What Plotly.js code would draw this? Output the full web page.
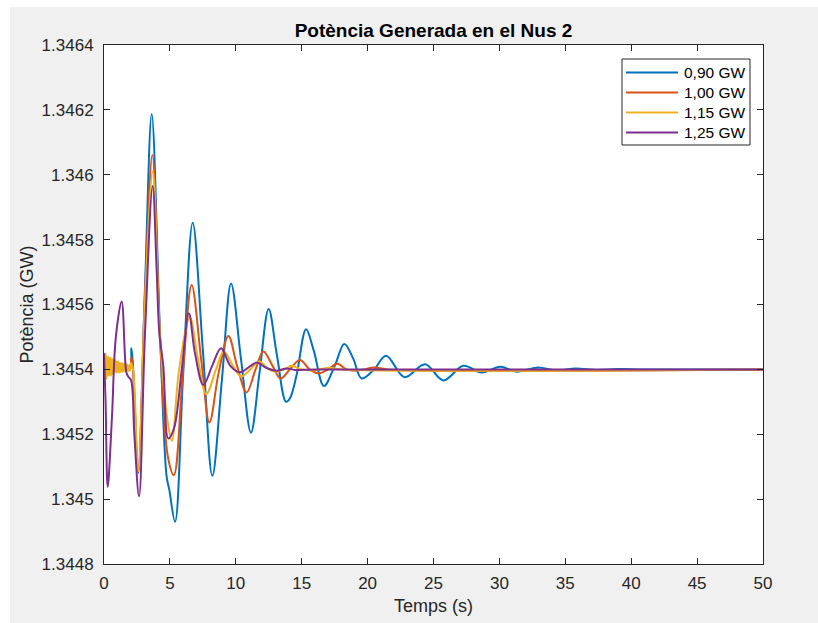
<!DOCTYPE html>
<html>
<head>
<meta charset="utf-8">
<script src="https://cdn.plot.ly/plotly-3.0.1.min.js"></script>
<style>
html,body{margin:0;padding:0;background:#ffffff;}
#chart{position:absolute;left:10px;top:7px;width:808px;height:616px;}
</style>
</head>
<body>
<div id="chart"></div>
<script>
// ---- Data ----
const seriesNames = ['0,90 GW', '1,00 GW', '1,15 GW', '1,25 GW'];

const time090 = [0, 0.4, 0.9, 1.4, 1.95, 2.08, 2.2, 2.6, 3.1, 3.62, 4.25, 4.75, 4.95, 5.39, 6.0, 6.73, 7.5, 8.22, 8.95, 9.64, 10.4, 11.15, 11.8, 12.49, 13.1, 13.81, 14.1, 14.6, 15.33, 15.9, 16.69, 17.5, 18.23, 18.9, 19.55, 20.5, 21.4, 22.8, 24.36, 25.75, 27.26, 28.66, 30.05, 31.3, 32.95, 34.3, 35.8, 37.4, 39.0, 41.0, 50.0];
const power090 = [1.34545, 1.34541, 1.34540, 1.34541, 1.34540, 1.345465, 1.34541, 1.34508, 1.34564, 1.346187, 1.34551, 1.34507, 1.34503, 1.34493, 1.34538, 1.345852, 1.34546, 1.345072, 1.34537, 1.345665, 1.34543, 1.345205, 1.34539, 1.345586, 1.345449, 1.3453, 1.34531, 1.34538, 1.345524, 1.34546, 1.345349, 1.34541, 1.345478, 1.345434, 1.345372, 1.34540, 1.345442, 1.345376, 1.345416, 1.345366, 1.345411, 1.34539, 1.345408, 1.345393, 1.345406, 1.345397, 1.345403, 1.345398, 1.345401, 1.3454, 1.3454];

const time100 = [0, 0.5, 1.0, 1.5, 1.95, 2.08, 2.2, 2.6, 3.1, 3.67, 4.25, 4.85, 5.3, 6.0, 6.65, 7.4, 8.0, 8.7, 9.44, 10.1, 10.82, 11.5, 12.09, 12.8, 13.4, 14.1, 14.87, 15.6, 16.26, 17.0, 17.7, 18.4, 19.05, 19.8, 20.43, 21.5, 50.0];
const power100 = [1.34545, 1.34541, 1.34540, 1.34541, 1.34540, 1.345439, 1.34540, 1.34509, 1.34562, 1.346061, 1.34550, 1.34513, 1.345074, 1.34540, 1.34566, 1.34542, 1.345236, 1.34539, 1.345503, 1.34541, 1.345329, 1.34540, 1.345455, 1.34541, 1.345372, 1.34540, 1.345429, 1.34540, 1.345388, 1.34540, 1.345417, 1.34540, 1.345396, 1.34540, 1.345406, 1.3454, 1.3454];

const time115 = [0.00, 0.06, 0.12, 0.18, 0.24, 0.30, 0.36, 0.42, 0.48, 0.54, 0.60, 0.66, 0.72, 0.78, 0.84, 0.90, 0.96, 1.02, 1.08, 1.14, 1.20, 1.26, 1.32, 1.38, 1.44, 1.50, 1.56, 1.62, 1.68, 1.74, 1.80, 1.86, 1.92, 1.98, 2.04, 2.2, 2.6, 3.1, 3.7, 4.25, 4.9, 5.15, 5.7, 6.52, 7.1, 7.76, 8.5, 9.09, 9.8, 10.4, 11.1, 11.8, 12.5, 13.0, 13.7, 14.23, 15.0, 16.0, 17.0, 18.0, 50.0];
const power115 = [1.34545, 1.34537, 1.34545, 1.34537, 1.34544, 1.34538, 1.34544, 1.34538, 1.345435, 1.34538, 1.345435, 1.345385, 1.34543, 1.34539, 1.34543, 1.34539, 1.345425, 1.34539, 1.345425, 1.34539, 1.34542, 1.345392, 1.34542, 1.345392, 1.345418, 1.345394, 1.345418, 1.345394, 1.345416, 1.345395, 1.345414, 1.345395, 1.345412, 1.345397, 1.34542, 1.34540, 1.345085, 1.34560, 1.34601, 1.34550, 1.34522, 1.34518, 1.34540, 1.34556, 1.34544, 1.345324, 1.34540, 1.345455, 1.34541, 1.345378, 1.34540, 1.345424, 1.34540, 1.345393, 1.34540, 1.345411, 1.34540, 1.345397, 1.345405, 1.3454, 1.3454];

const time125 = [0, 0.12, 0.28, 0.6, 0.9, 1.34, 1.7, 1.85, 2.05, 2.3, 2.66, 3.1, 3.69, 4.0, 4.2, 4.5, 4.88, 5.31, 5.9, 6.44, 6.9, 7.54, 8.2, 8.88, 9.6, 10.32, 11.1, 11.59, 12.3, 13.1, 13.86, 14.5, 16.0, 50.0];
const power125 = [1.34545, 1.34530, 1.345038, 1.34525, 1.34550, 1.345609, 1.34539, 1.345377, 1.345367, 1.34520, 1.345008, 1.34550, 1.345965, 1.34570, 1.345511, 1.34541, 1.345187, 1.345218, 1.34540, 1.345573, 1.34545, 1.345352, 1.34541, 1.345465, 1.34541, 1.345391, 1.34541, 1.345421, 1.345405, 1.345396, 1.345403, 1.345398, 1.3454, 1.3454];

const xTickVals = [0, 5, 10, 15, 20, 25, 30, 35, 40, 45, 50];
const yTickVals = [1.3448, 1.345, 1.3452, 1.3454, 1.3456, 1.3458, 1.346, 1.3462, 1.3464];
const yTickText = ['1.3448', '1.345', '1.3452', '1.3454', '1.3456', '1.3458', '1.346', '1.3462', '1.3464'];

const colors = ['#0072BD', '#D95319', '#EDB120', '#7E2F8E'];

// ---- Traces ----
const xs = [time090, time100, time115, time125];
const ys = [power090, power100, power115, power125];
const traces = xs.map((x, i) => ({
  x: x,
  y: ys[i],
  type: 'scatter',
  mode: 'lines',
  name: seriesNames[i],
  showlegend: false,
  line: {color: colors[i], width: 2, shape: 'spline', smoothing: 1}
}));

// ---- Layout geometry (pixels inside the 808x616 figure) ----
const W = 808, H = 616;
const M = {l: 94, r: 55, t: 38, b: 59};
const PW = W - M.l - M.r, PH = H - M.t - M.b;
const px = v => (v - M.l) / PW;          // pixel x -> paper fraction
const py = v => 1 - (v - M.t) / PH;      // pixel y -> paper fraction

// MATLAB-style legend box (drawn as layout decoration)
const legBox = {x0: 612, x1: 740, y0: 52, y1: 138};
const legRows = [65.5, 85.5, 105.5, 125.5];
const shapes = [{
  type: 'rect', xref: 'paper', yref: 'paper', layer: 'above',
  x0: px(legBox.x0), x1: px(legBox.x1), y0: py(legBox.y1), y1: py(legBox.y0),
  fillcolor: '#ffffff', line: {color: '#262626', width: 1}
}];
const annotations = [];
seriesNames.forEach((name, i) => {
  shapes.push({
    type: 'line', xref: 'paper', yref: 'paper', layer: 'above',
    x0: px(616), x1: px(668), y0: py(legRows[i]), y1: py(legRows[i]),
    line: {color: colors[i], width: 2}
  });
  annotations.push({
    xref: 'paper', yref: 'paper', x: px(672), y: py(legRows[i]),
    xanchor: 'left', yanchor: 'middle', showarrow: false,
    text: name, font: {family: '"Liberation Sans", Arial, sans-serif', size: 15.5, color: '#000000'}
  });
});

const fontFam = '"Liberation Sans", Arial, Helvetica, sans-serif';
const axisCommon = {
  showgrid: false,
  zeroline: false,
  showline: true,
  linecolor: '#262626',
  linewidth: 1,
  mirror: 'ticks',
  ticks: 'inside',
  ticklen: 6,
  tickwidth: 1,
  tickcolor: '#262626',
  tickfont: {family: fontFam, size: 17, color: '#262626'}
};

const layout = {
  width: W,
  height: H,
  paper_bgcolor: '#f0f0f0',
  plot_bgcolor: '#ffffff',
  margin: M,
  font: {family: fontFam, color: '#262626'},
  title: {
    text: '<b>Potència Generada en el Nus 2</b>',
    font: {family: fontFam, size: 19, color: '#000000'},
    x: 0.5, xref: 'paper', xanchor: 'center',
    y: 1 - 23 / H, yref: 'container', yanchor: 'middle'
  },
  xaxis: Object.assign({}, axisCommon, {
    range: [0, 50],
    tickmode: 'array',
    tickvals: xTickVals,
    ticktext: xTickVals.map(String),
    ticklabelstandoff: 4,
    title: {text: 'Temps (s)', font: {family: fontFam, size: 18, color: '#262626'}, standoff: 6}
  }),
  yaxis: Object.assign({}, axisCommon, {
    range: [1.3448, 1.3464],
    tickmode: 'array',
    tickvals: yTickVals,
    ticktext: yTickText,
    ticklabelstandoff: 6,
    title: {text: 'Potència (GW)', font: {family: fontFam, size: 18, color: '#262626'}, standoff: 3}
  }),
  showlegend: false,
  shapes: shapes,
  annotations: annotations
};

Plotly.newPlot('chart', traces, layout, {displayModeBar: false, staticPlot: true});
</script>
</body>
</html>
